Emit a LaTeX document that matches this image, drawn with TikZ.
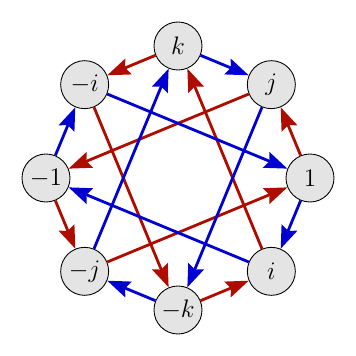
\documentclass[tikz,border=0pt]{standalone}
\usetikzlibrary{arrows.meta}
\definecolor{qred}{RGB}{175,12,0}
\definecolor{qblue}{RGB}{0,0,210}
\definecolor{qfill}{RGB}{228,228,228}
\begin{document}
\begin{tikzpicture}[
  elem/.style={circle, draw=black, fill=qfill, line width=0.5pt, minimum size=0.96cm, inner sep=0pt, font=\fontsize{13.5}{16}\selectfont},
  redarr/.style={draw=qred, line width=1.6pt, -{Stealth[length=13pt,width=9.5pt,inset=2pt]}},
  bluearr/.style={draw=qblue, line width=1.6pt, -{Stealth[length=13pt,width=9.5pt,inset=2pt]}}
]
\useasboundingbox (-3.56,-3.56) rectangle (3.56,3.56);
\def\R{2.64}
\path
  (90:\R) coordinate (pk)
  (45:\R) coordinate (pj)
  (0:\R) coordinate (p1)
  (-45:\R) coordinate (pi)
  (-90:\R) coordinate (pmk)
  (225:\R) coordinate (pmj)
  (180:\R) coordinate (pm1)
  (135:\R) coordinate (pmi);
\node[elem] (k) at (pk) {$k$};
\node[elem] (j) at (pj) {$j$};
\node[elem] (one) at (p1) {$1$};
\node[elem] (i) at (pi) {$i$};
\node[elem] (mk) at (pmk) {$-k$};
\node[elem] (mj) at (pmj) {$-j$};
\node[elem] (mone) at (pm1) {$-1$};
\node[elem] (mi) at (pmi) {$-i$};
\draw[redarr] (k) -- (mi);
\draw[redarr] (mk) -- (i);
\draw[redarr] (i) -- (k);
\draw[redarr] (mi) -- (mk);
\draw[redarr] (j) -- (mone);
\draw[redarr] (mj) -- (one);
\draw[redarr] (one) -- (j);
\draw[redarr] (mone) -- (mj);
\draw[bluearr] (k) -- (j);
\draw[bluearr] (j) -- (mk);
\draw[bluearr] (one) -- (i);
\draw[bluearr] (i) -- (mone);
\draw[bluearr] (mk) -- (mj);
\draw[bluearr] (mj) -- (k);
\draw[bluearr] (mone) -- (mi);
\draw[bluearr] (mi) -- (one);
\end{tikzpicture}
\end{document}
